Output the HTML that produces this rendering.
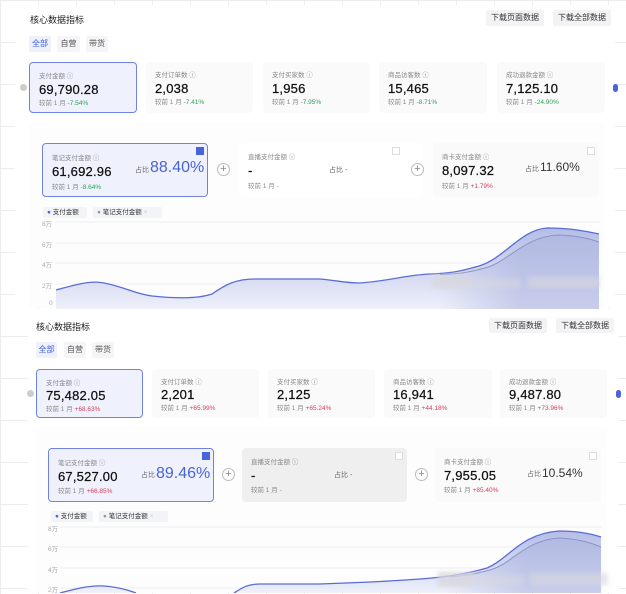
<!DOCTYPE html>
<html><head><meta charset="utf-8"><style>
*{margin:0;padding:0;box-sizing:border-box}
body{width:626px;height:593px;overflow:hidden;position:relative;font-family:"Liberation Sans","Noto Sans CJK SC",sans-serif;color:#222;
background-color:#fff;background-image:linear-gradient(#ececec 1px,transparent 1px),linear-gradient(90deg,#ececec 1px,transparent 1px);background-size:38px 42px}
.a{position:absolute}
.panel{position:absolute;background:#fff}
.t{font-size:9px;color:#222;position:absolute}
.btn{position:absolute;background:#f3f3f5;font-size:8px;color:#333;text-align:center;border-radius:2px}
.tab{position:absolute;font-size:8px;color:#555;background:#f5f5f7;text-align:center;border-radius:2px}
.tab.on{background:#eef1fc;color:#3d5be0}
.card{position:absolute;background:#fafafb;border-radius:4px;padding-left:9px}
.card.on{background:#eff2fd;border:1px solid #6f83e6}
.lb{font-size:6.5px;color:#888;position:absolute;left:9px;white-space:nowrap}
.vl{font-size:13px;color:#111;position:absolute;left:9px;white-space:nowrap;letter-spacing:.2px;-webkit-text-stroke:.25px #111}
.cp{font-size:6.5px;color:#888;position:absolute;left:9px;white-space:nowrap}
.g{color:#2fa05a}.r{color:#d83a5c}
.plus{position:absolute;width:13px;height:13px;border:1px solid #bbb;border-radius:50%;font-size:11px;line-height:10px;text-align:center;color:#888}
.chk{position:absolute;width:8px;height:8px;border:1px solid #ddd;background:#fff}
.chk.on{background:#4a63d8;border-color:#4a63d8}
.yl{position:absolute;font-size:6.5px;color:#aaa}
.leg{position:absolute;font-size:6.5px;color:#333;border-radius:2px;white-space:nowrap}
.blob{position:absolute;background:#d8d8de;filter:blur(2px);opacity:.8}
</style></head><body>

<!-- Panel 1 -->
<div class="panel" style="left:15px;top:5px;width:600px;height:303px"></div>
<div class="t" style="left:30px;top:13px">核心数据指标</div>
<div class="btn" style="left:486px;top:10px;width:58px;height:16px;line-height:16px">下载页面数据</div>
<div class="btn" style="left:553px;top:10px;width:58px;height:16px;line-height:16px">下载全部数据</div>
<div class="tab on" style="left:29px;top:36px;width:22px;height:16px;line-height:16px">全部</div>
<div class="tab" style="left:57px;top:36px;width:23px;height:16px;line-height:16px">自营</div>
<div class="tab" style="left:86px;top:36px;width:22px;height:16px;line-height:16px">带货</div>
<div class="a" style="left:20px;top:84px;width:7px;height:7px;border-radius:50%;background:#ccc"></div>
<div class="a" style="left:613px;top:84px;width:5px;height:8px;border-radius:3px;background:#4a63d8"></div>

<div class="card on" style="left:29px;top:62px;width:108px;height:51px"><div class="lb" style="top:7px">支付金额 ⓘ</div><div class="vl" style="top:19px">69,790.28</div><div class="cp" style="top:34px">较前 1 月 <span class="g">-7.54%</span></div></div>
<div class="card" style="left:146px;top:62px;width:107px;height:51px"><div class="lb" style="top:7px">支付订单数 ⓘ</div><div class="vl" style="top:19px">2,038</div><div class="cp" style="top:34px">较前 1 月 <span class="g">-7.41%</span></div></div>
<div class="card" style="left:263px;top:62px;width:107px;height:51px"><div class="lb" style="top:7px">支付买家数 ⓘ</div><div class="vl" style="top:19px">1,956</div><div class="cp" style="top:34px">较前 1 月 <span class="g">-7.95%</span></div></div>
<div class="card" style="left:379px;top:62px;width:108px;height:51px"><div class="lb" style="top:7px">商品访客数 ⓘ</div><div class="vl" style="top:19px">15,465</div><div class="cp" style="top:34px">较前 1 月 <span class="g">-8.71%</span></div></div>
<div class="card" style="left:497px;top:62px;width:108px;height:51px"><div class="lb" style="top:7px">成功退款金额 ⓘ</div><div class="vl" style="top:19px">7,125.10</div><div class="cp" style="top:34px">较前 1 月 <span class="g">-24.90%</span></div></div>

<div class="a" style="left:29px;top:123px;width:576px;height:185px;background:#fdfdfe"></div>
<div class="card on" style="left:42px;top:143px;width:166px;height:54px"><div class="lb" style="top:8px">笔记支付金额 ⓘ</div><div class="vl" style="top:20px">61,692.96</div><div class="cp" style="top:37px">较前 1 月 <span class="g">-8.64%</span></div>
<div class="a" style="left:92px;top:21px;font-size:7px;color:#666">占比</div><div class="a" style="left:107px;top:15px;font-size:16px;color:#4a63d8">88.40%</div></div>
<div class="chk on" style="left:196px;top:147px"></div>
<div class="plus" style="left:217px;top:163px">+</div>
<div class="card" style="left:239px;top:143px;width:184px;height:54px;background:#fff"><div class="lb" style="top:8px">直播支付金额 ⓘ</div><div class="vl" style="top:20px">-</div><div class="cp" style="top:37px">较前 1 月 -</div><div class="a" style="left:90px;top:22px;font-size:7px;color:#666">占比 -</div></div>
<div class="chk" style="left:392px;top:147px"></div>
<div class="plus" style="left:411px;top:163px">+</div>
<div class="card" style="left:433px;top:143px;width:166px;height:54px"><div class="lb" style="top:8px">商卡支付金额 ⓘ</div><div class="vl" style="top:20px">8,097.32</div><div class="cp" style="top:37px">较前 1 月 <span class="r">+1.79%</span></div>
<div class="a" style="left:92px;top:21px;font-size:7px;color:#666">占比</div><div class="a" style="left:107px;top:17px;font-size:12px;color:#333">11.60%</div></div>
<div class="chk" style="left:587px;top:147px"></div>
<div class="leg" style="left:43px;top:207px;width:44px;height:11px;line-height:11px;background:#f3f4f8;padding-left:4px"><span style="color:#4a63d8">●</span> 支付金额</div>
<div class="leg" style="left:93px;top:207px;width:69px;height:11px;line-height:11px;background:#f3f4f8;padding-left:4px"><span style="color:#999">●</span> 笔记支付金额 <span style="color:#ccc">×</span></div>
<div class="yl" style="left:42px;top:218px">8万</div><div class="yl" style="left:42px;top:239px">6万</div><div class="yl" style="left:42px;top:259px">4万</div><div class="yl" style="left:42px;top:280px">2万</div>
<svg class="a" style="left:0;top:0" width="626" height="310">
<defs><linearGradient id="gf" x1="0" y1="0" x2="0" y2="1"><stop offset="0" stop-color="#b5bde6"/><stop offset="1" stop-color="#eef0fa"/></linearGradient>
<linearGradient id="gx" gradientUnits="userSpaceOnUse" x1="440" y1="0" x2="520" y2="0"><stop offset="0" stop-color="#a9b1de" stop-opacity="0"/><stop offset="1" stop-color="#a9b1de" stop-opacity=".55"/></linearGradient></defs>
<g stroke="#f0f0f3" stroke-width="1"><line x1="55" y1="222" x2="600" y2="222"/><line x1="55" y1="243" x2="600" y2="243"/><line x1="55" y1="263" x2="600" y2="263"/><line x1="55" y1="284" x2="600" y2="284"/></g>
<path d="M56 290 C75 285 90 280 104 283 C125 287 135 294 152 296 C180 299 200 298 212 294 C225 285 235 279 255 279 L319 279 C335 280 345 283 359 283 C390 281 405 275 430 274 C455 273 465 270 479 266 C505 258 520 230 547 228 C570 228 585 231 599 234 L599 310 L56 310Z" fill="url(#gf)"/>
<path d="M56 290 C75 285 90 280 104 283 C125 287 135 294 152 296 C180 299 200 298 212 294 C225 285 235 279 255 279 L319 279 C335 280 345 283 359 283 C390 281 405 275 430 274 C455 273 465 270 479 266 C505 258 520 230 547 228 C570 228 585 231 599 234" fill="none" stroke="#5a6dd6" stroke-width="1.3"/>
<path d="M430 275 C455 274 468 272 485 268 C508 262 525 236 559 235 C580 236 590 239 599 242 L599 310 L430 310Z" fill="url(#gx)"/>
<path d="M440 274.5 C460 274 470 272 485 268 C508 262 525 236 559 235 C580 236 590 239 599 242" fill="none" stroke="#8a94c8" stroke-width="1"/>
</svg>
<div class="blob" style="left:432px;top:275px;width:38px;height:14px"></div>
<div class="blob" style="left:470px;top:278px;width:50px;height:10px;opacity:.5"></div>
<div class="blob" style="left:528px;top:277px;width:72px;height:11px;opacity:.6"></div>

<!-- Panel 2 -->
<div class="panel" style="left:28px;top:309px;width:590px;height:284px"></div>
<div class="yl" style="left:49px;top:300px">0</div>
<div class="t" style="left:36px;top:320px">核心数据指标</div>
<div class="btn" style="left:489px;top:318px;width:58px;height:15px;line-height:15px">下载页面数据</div>
<div class="btn" style="left:556px;top:318px;width:58px;height:15px;line-height:15px">下载全部数据</div>
<div class="tab on" style="left:36px;top:342px;width:21px;height:16px;line-height:16px">全部</div>
<div class="tab" style="left:64px;top:342px;width:22px;height:16px;line-height:16px">自营</div>
<div class="tab" style="left:92px;top:342px;width:22px;height:16px;line-height:16px">带货</div>
<div class="a" style="left:27px;top:390px;width:7px;height:7px;border-radius:50%;background:#ccc"></div>
<div class="a" style="left:616px;top:390px;width:5px;height:8px;border-radius:3px;background:#4a63d8"></div>

<div class="card on" style="left:36px;top:369px;width:107px;height:49px"><div class="lb" style="top:7px">支付金额 ⓘ</div><div class="vl" style="top:18px">75,482.05</div><div class="cp" style="top:33px">较前 1 月 <span class="r">+68.63%</span></div></div>
<div class="card" style="left:152px;top:369px;width:107px;height:49px"><div class="lb" style="top:7px">支付订单数 ⓘ</div><div class="vl" style="top:18px">2,201</div><div class="cp" style="top:33px">较前 1 月 <span class="r">+65.99%</span></div></div>
<div class="card" style="left:268px;top:369px;width:107px;height:49px"><div class="lb" style="top:7px">支付买家数 ⓘ</div><div class="vl" style="top:18px">2,125</div><div class="cp" style="top:33px">较前 1 月 <span class="r">+65.24%</span></div></div>
<div class="card" style="left:384px;top:369px;width:108px;height:49px"><div class="lb" style="top:7px">商品访客数 ⓘ</div><div class="vl" style="top:18px">16,941</div><div class="cp" style="top:33px">较前 1 月 <span class="r">+44.18%</span></div></div>
<div class="card" style="left:500px;top:369px;width:107px;height:49px"><div class="lb" style="top:7px">成功退款金额 ⓘ</div><div class="vl" style="top:18px">9,487.80</div><div class="cp" style="top:33px">较前 1 月 <span class="r">+73.96%</span></div></div>

<div class="a" style="left:36px;top:427px;width:571px;height:166px;background:#fdfdfe"></div>
<div class="card on" style="left:48px;top:448px;width:166px;height:54px"><div class="lb" style="top:8px">笔记支付金额 ⓘ</div><div class="vl" style="top:20px">67,527.00</div><div class="cp" style="top:36px">较前 1 月 <span class="r">+66.85%</span></div>
<div class="a" style="left:92px;top:21px;font-size:7px;color:#666">占比</div><div class="a" style="left:107px;top:16px;font-size:16px;color:#4a63d8">89.46%</div></div>
<div class="chk on" style="left:202px;top:452px"></div>
<div class="plus" style="left:222px;top:468px">+</div>
<div class="card" style="left:242px;top:448px;width:165px;height:54px;background:#efefef"><div class="lb" style="top:8px">直播支付金额 ⓘ</div><div class="vl" style="top:20px">-</div><div class="cp" style="top:36px">较前 1 月 -</div><div class="a" style="left:92px;top:22px;font-size:7px;color:#666">占比 -</div></div>
<div class="chk" style="left:395px;top:452px"></div>
<div class="plus" style="left:415px;top:468px">+</div>
<div class="card" style="left:435px;top:448px;width:166px;height:54px"><div class="lb" style="top:8px">商卡支付金额 ⓘ</div><div class="vl" style="top:20px">7,955.05</div><div class="cp" style="top:36px">较前 1 月 <span class="r">+85.40%</span></div>
<div class="a" style="left:92px;top:21px;font-size:7px;color:#666">占比</div><div class="a" style="left:107px;top:18px;font-size:12px;color:#333">10.54%</div></div>
<div class="chk" style="left:589px;top:452px"></div>
<div class="leg" style="left:51px;top:511px;width:42px;height:11px;line-height:11px;background:#f3f4f8;padding-left:4px"><span style="color:#4a63d8">●</span> 支付金额</div>
<div class="leg" style="left:99px;top:511px;width:69px;height:11px;line-height:11px;background:#f3f4f8;padding-left:4px"><span style="color:#999">●</span> 笔记支付金额 <span style="color:#ccc">×</span></div>
<div class="yl" style="left:48px;top:523px">8万</div><div class="yl" style="left:48px;top:543px">6万</div><div class="yl" style="left:48px;top:564px">4万</div><div class="yl" style="left:48px;top:584px">2万</div>
<svg class="a" style="left:0;top:0" width="626" height="593">
<defs><linearGradient id="gx2" gradientUnits="userSpaceOnUse" x1="445" y1="0" x2="525" y2="0"><stop offset="0" stop-color="#a9b1de" stop-opacity="0"/><stop offset="1" stop-color="#a9b1de" stop-opacity=".55"/></linearGradient></defs>
<g stroke="#f0f0f3" stroke-width="1"><line x1="60" y1="527" x2="602" y2="527"/><line x1="60" y1="547" x2="602" y2="547"/><line x1="60" y1="568" x2="602" y2="568"/><line x1="60" y1="588" x2="602" y2="588"/></g>
<path d="M60 593 C75 589 90 585 104 586 C118 587 128 590 136 593 L234 593 C242 588 247 584 260 584 L319 584 C350 583 380 582 420 579 C450 577 470 573 487 568 C510 558 520 534 559 531 C580 531 592 534 601 537 L601 593Z" fill="url(#gf)"/>
<path d="M60 593 C75 589 90 585 104 586 C118 587 128 590 136 593 M234 593 C242 588 247 584 260 584 L319 584 C350 583 380 582 420 579 C450 577 470 573 487 568 C510 558 520 534 559 531 C580 531 592 534 601 537" fill="none" stroke="#5a6dd6" stroke-width="1.3"/>
<path d="M440 578 C460 577 475 574 490 570 C512 564 525 540 559 538 C580 539 592 543 601 547 L601 593 L440 593Z" fill="url(#gx2)"/>
<path d="M450 577 C468 576 478 573 490 570 C512 564 525 540 559 538 C580 539 592 543 601 547" fill="none" stroke="#8a94c8" stroke-width="1"/>
</svg>
<div class="blob" style="left:438px;top:572px;width:36px;height:15px"></div>
<div class="blob" style="left:474px;top:575px;width:50px;height:10px;opacity:.5"></div>
<div class="blob" style="left:530px;top:573px;width:78px;height:12px;opacity:.6"></div>
</body></html>
